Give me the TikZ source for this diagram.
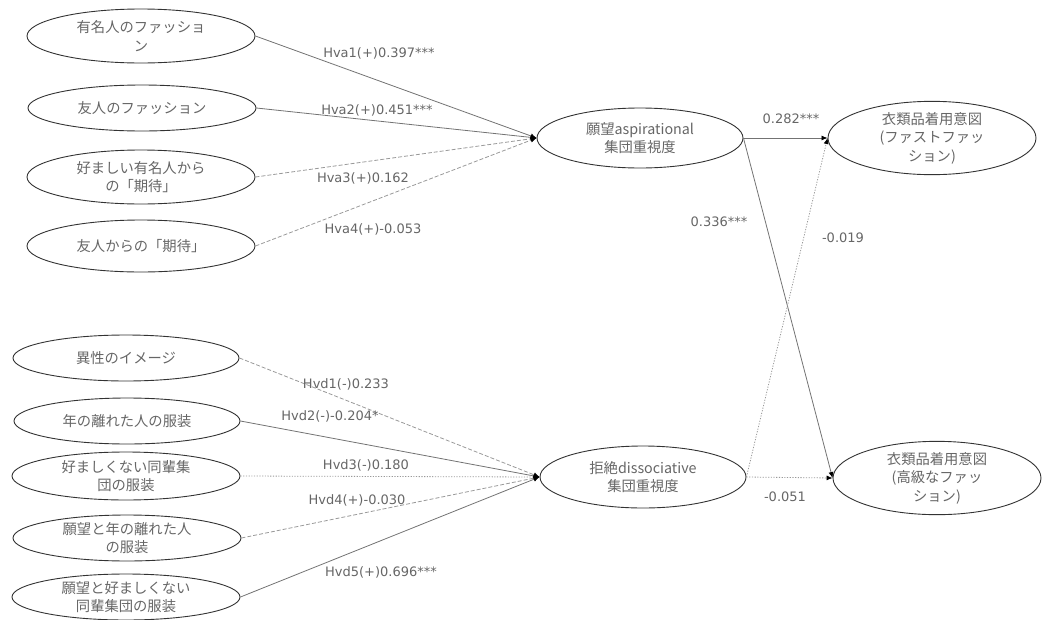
\documentclass[tikz,border=0pt]{standalone}
\usepackage{fontspec}
\usetikzlibrary{shapes.geometric,arrows.meta}
\newfontfamily\jpfont{Noto Sans CJK JP}
\newfontfamily\labfont{DejaVu Sans}
\definecolor{txtgray}{gray}{0.4}
\definecolor{linegray}{gray}{0.45}
\definecolor{faintgray}{gray}{0.6}
\tikzset{
  x=1pt, y=-1pt,
  construct/.style={ellipse, draw=black!80, line width=0.9pt, inner sep=0pt,
    text=txtgray, align=center, font=\jpfont\fontsize{14.3}{18.5}\selectfont},
  tip/.style={-{Latex[length=6pt,width=5pt,black]}},
  sigpath/.style={draw=linegray, line width=0.8pt, tip},
  nspath/.style={draw=faintgray, line width=0.8pt, dash pattern=on 4pt off 2pt, tip},
  dotpath/.style={draw=faintgray, line width=0.8pt, dash pattern=on 1.2pt off 1.5pt, tip},
  coef/.style={text=txtgray, inner sep=0pt, font=\labfont\fontsize{13}{15}\selectfont},
}
\begin{document}
\begin{tikzpicture}
\useasboundingbox (0,0) rectangle (1042,619);

% antecedents of the aspirational group
\node[construct, minimum width=228pt, minimum height=54pt] (e1) at (141,36) {有名人のファッショ\\ン};
\node[construct, minimum width=228pt, minimum height=46pt] (e2) at (142,108) {友人のファッション};
\node[construct, minimum width=228pt, minimum height=54pt] (e3) at (141,177) {好ましい有名人から\\の「期待」};
\node[construct, minimum width=228pt, minimum height=52pt] (e4) at (141,246) {友人からの「期待」};

% antecedents of the dissociative group
\node[construct, minimum width=226pt, minimum height=46pt] (e5) at (126,358) {異性のイメージ};
\node[construct, minimum width=226pt, minimum height=46pt] (e6) at (127,421) {年の離れた人の服装};
\node[construct, minimum width=228pt, minimum height=48pt] (e7) at (126,476) {好ましくない同輩集\\団の服装};
\node[construct, minimum width=228pt, minimum height=46pt] (e8) at (127,538) {願望と年の離れた人\\の服装};
\node[construct, minimum width=228pt, minimum height=46pt] (e9) at (126,597) {願望と好ましくない\\同輩集団の服装};

% mediating constructs
\node[construct, minimum width=206pt, minimum height=60pt] (asp) at (640,138) {願望aspirational\\集団重視度};
\node[construct, minimum width=206pt, minimum height=62pt] (dis) at (643,477) {拒絶dissociative\\集団重視度};

% outcomes
\node[construct, minimum width=208pt, minimum height=70pt] (ff) at (932,138) {衣類品着用意図\\(ファストファッ\\ション)};
\node[construct, minimum width=208pt, minimum height=70pt] (lux) at (937,478) {衣類品着用意図\\(高級なファッ\\ション)};

% paths into the aspirational construct
\draw[sigpath] (e1.east) -- (asp.west);
\draw[sigpath] (e2.east) -- (asp.west);
\draw[nspath] (e3.east) -- (asp.west);
\draw[nspath] (e4.east) -- (asp.west);

% paths into the dissociative construct
\draw[nspath] (e5.east) -- (dis.west);
\draw[sigpath] (e6.east) -- (dis.west);
\draw[dotpath] (e7.east) -- (dis.west);
\draw[nspath] (e8.east) -- (dis.west);
\draw[sigpath] (e9.east) -- (dis.west);

% paths to the outcomes
\draw[sigpath] (asp.east) -- (ff.west);
\draw[sigpath] (asp.east) -- (lux.west);
\draw[dotpath] (dis.east) -- (ff.west);
\draw[dotpath] (dis.east) -- (lux.west);

% path coefficients
\node[coef] (c1) at (379,53) {Hva1(+)0.397***};
\node[coef] (c2) at (377,110) {Hva2(+)0.451***};
\node[coef] (c3) at (363,178) {Hva3(+)0.162};
\node[coef] (c4) at (373,229) {Hva4(+)-0.053};
\node[coef] (d1) at (346,384) {Hvd1(-)0.233};
\node[coef] (d2) at (330,416) {Hvd2(-)-0.204*};
\node[coef] (d3) at (366,465) {Hvd3(-)0.180};
\node[coef] (d4) at (357,500) {Hvd4(+)-0.030};
\node[coef] (d5) at (381,572) {Hvd5(+)0.696***};
\node[coef] (o1) at (791,119) {0.282***};
\node[coef] (o2) at (719,222) {0.336***};
\node[coef] (o3) at (843,238) {-0.019};
\node[coef] (o4) at (785,497) {-0.051};
\end{tikzpicture}
\end{document}
